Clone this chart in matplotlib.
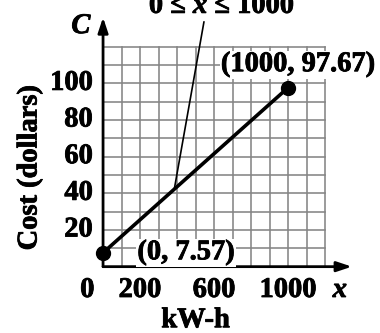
import matplotlib
matplotlib.use("Agg")
import matplotlib.pyplot as plt
import matplotlib.patheffects as pe
import numpy as np

# data
x_kwh = [0, 1000]
cost = [7.57, 97.67]
x_tick_vals = [0, 200, 600, 1000]
y_tick_vals = [20, 40, 60, 80, 100]
grid_x = np.arange(0, 1201, 100)
grid_y = np.arange(0, 121, 10)
point_labels = ["(0, 7.57)", "(1000, 97.67)"]

plt.rcParams["mathtext.fontset"] = "custom"
plt.rcParams["mathtext.it"] = "Liberation Serif:italic:bold"
plt.rcParams["mathtext.rm"] = "Liberation Serif:bold"

serif = "Liberation Serif"
fs = 20.5
heavy = [pe.withStroke(linewidth=0.6, foreground="black")]

fig = plt.figure(figsize=(3.8, 3.33), dpi=100)
ax = fig.add_axes([0, 0, 1, 1])
ax.set_xlim(-557, 1497)
ax.set_ylim(-36.2, 145.5)
ax.axis("off")

# grid
for gx in grid_x:
    ax.plot([gx, gx], [0, 120], color="#858585", lw=1.15, zorder=1)
for gy in grid_y:
    ax.plot([0, 1200], [gy, gy], color="#858585", lw=1.15, zorder=1)

# axes with arrows
arrow_style = "-|>,head_length=0.9,head_width=0.3"
ax.annotate("", xy=(1345, 0), xytext=(0, 0),
            arrowprops=dict(arrowstyle=arrow_style, lw=2, color="black",
                            shrinkA=0, shrinkB=0), zorder=3)
ax.annotate("", xy=(0, 136), xytext=(0, 0),
            arrowprops=dict(arrowstyle=arrow_style, lw=2, color="black",
                            shrinkA=0, shrinkB=0), zorder=3)

# data line
ax.plot(x_kwh, cost, color="black", lw=2.6, zorder=4, solid_capstyle="butt")
ax.plot(x_kwh, cost, "o", color="black", ms=10, zorder=5)

txt = dict(fontsize=fs, fontfamily=serif, fontweight="bold", path_effects=heavy)

# tick labels
for tx in x_tick_vals:
    off = -85 if tx == 0 else 0
    ax.text(tx + off, -13, str(tx), ha="center", va="center", **txt)
for ty in y_tick_vals:
    ax.text(-55, ty, str(ty), ha="right", va="center", **txt)

# axis variable labels
ax.text(-120, 131, "C", ha="center", va="center", fontstyle="italic", **txt)
ax.text(1280, -13, "x", ha="center", va="center", fontstyle="italic", **txt)

# axis titles
ax.text(-395, 54, "Cost (dollars)", ha="center", va="center", rotation=90, **txt)
ax.text(500, -29.5, "kW-h", ha="center", va="center", **txt)

# point labels
box = dict(boxstyle="square,pad=0.05", fc="white", ec="none")
ax.annotate(point_labels[0], xy=(x_kwh[0], cost[0]), xytext=(83, 0),
            textcoords="offset pixels", ha="center", va="center",
            zorder=6, bbox=box, **txt)
ax.annotate(point_labels[1], xy=(x_kwh[1], cost[1]), xytext=(10, 23),
            textcoords="offset pixels", ha="center", va="center",
            zorder=6, bbox=box, **txt)

# domain annotation with leader line
lx = 385
ly = np.interp(lx, x_kwh, cost)
ax.annotate(r"0 ≤ $\mathit{x}$ ≤ 1000", xy=(lx, ly), xytext=(643, 138.4),
            ha="center", va="baseline", zorder=6,
            arrowprops=dict(arrowstyle="-", lw=1.2, color="black",
                            shrinkA=0, shrinkB=0, relpos=(0.38, 0.0)),
            **txt)

fig.savefig("out.png", dpi=100)
